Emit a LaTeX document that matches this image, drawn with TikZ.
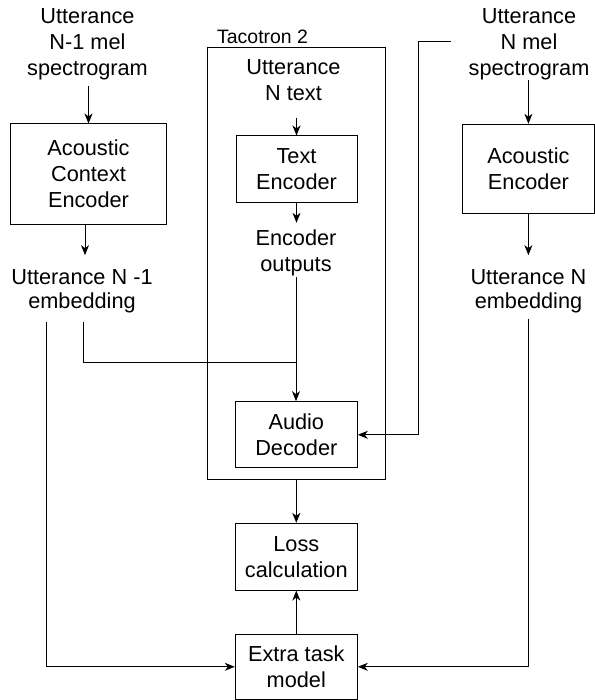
\documentclass[tikz,border=0pt]{standalone}
\usepackage{fontspec}
\setmainfont{Liberation Sans}
\usetikzlibrary{arrows.meta}
\begin{document}
\begin{tikzpicture}[x=1bp,y=-1bp,
  txt/.style={align=center, inner sep=0pt, font=\fontsize{21.8}{26}\selectfont},
  emb/.style={align=center, inner sep=0pt, font=\fontsize{21.8}{23.7}\selectfont},
  blk/.style={draw, line width=1bp, align=center, inner sep=0pt, font=\fontsize{21.8}{26}\selectfont},
  frame/.style={draw, line width=1bp, inner sep=0pt},
  arr/.style={line width=1bp, -{Stealth[length=10bp,width=8bp,inset=3bp]}},
  ln/.style={line width=1bp}]
\useasboundingbox (0,0) rectangle (595,700);

% Tacotron frame
\node[frame, minimum width=177.3bp, minimum height=431.5bp] (taco) at (296.35,263.25) {};
\node[anchor=base west, inner sep=0pt, font=\fontsize{19.5}{23}\selectfont] (tacolbl) at (217,44) {Tacotron 2};

% left column
\node[txt] (melA) at (87.5,44.2) {Utterance\\N-1 mel\\spectrogram};
\node[blk, minimum width=155bp, minimum height=100bp] (ace) at (88.5,174) {Acoustic\\Context\\Encoder};
\node[emb] (embA) at (82,291.3) {Utterance N -1\\embedding};

% centre column
\node[txt] (txtN) at (293.5,80) {Utterance\\N text};
\node[blk, minimum width=121bp, minimum height=66bp] (te) at (296.5,169) {Text\\Encoder};
\node[txt] (encOut) at (296,252.5) {Encoder\\outputs};
\node[blk, minimum width=122bp, minimum height=66.3bp] (ad) at (296.3,434.8) {Audio\\Decoder};
\node[blk, minimum width=122bp, minimum height=66.7bp] (loss) at (296.3,556.7) {Loss\\calculation};
\node[blk, minimum width=122bp, minimum height=65.5bp] (extra) at (296.3,666.8) {Extra task\\model};

% right column
\node[txt] (melN) at (529,44.2) {Utterance\\N mel\\spectrogram};
\node[blk, minimum width=132.2bp, minimum height=89bp] (ae) at (528.4,168.8) {Acoustic\\Encoder};
\node[emb] (embN) at (528.5,291.3) {Utterance N\\embedding};

% helper coordinates
\coordinate (eA1) at (46,322);
\coordinate (eA2) at (83,322);
\coordinate (eN) at (528.5,319);
\coordinate (join) at (296,362);
\coordinate (bend) at (418,42);

% connectors
\draw[arr, shorten <=6bp] (melA.south -| ace.north) -- (ace.north);
\draw[arr, shorten >=14.4bp] ([xshift=-3.5bp]ace.south) -- ([xshift=-3.5bp]ace.south |- embA.north);
\draw[arr, shorten <=17bp] (txtN.south -| te.north) -- (te.north);
\draw[arr, shorten >=6.4bp] (te.south) -- (te.south |- encOut.north);
\draw[arr, shorten <=1.4bp] (encOut.south) -- (encOut.south |- ad.north);
\draw[ln] (eA2) |- (join);
\draw[arr, shorten <=17bp] (bend -| melN.west) -- (bend) |- (ad.east);
\draw[arr] (melN.south -| ae.north) -- (ae.north);
\draw[arr, shorten >=14.4bp] (ae.south) -- (ae.south |- embN.north);
\draw[arr] (taco.south -| loss.north) -- (loss.north);
\draw[arr] (extra.north) -- (loss.south);
\draw[arr] (eA1) |- (extra.west);
\draw[arr] (eN) |- (extra.east);
\end{tikzpicture}
\end{document}
